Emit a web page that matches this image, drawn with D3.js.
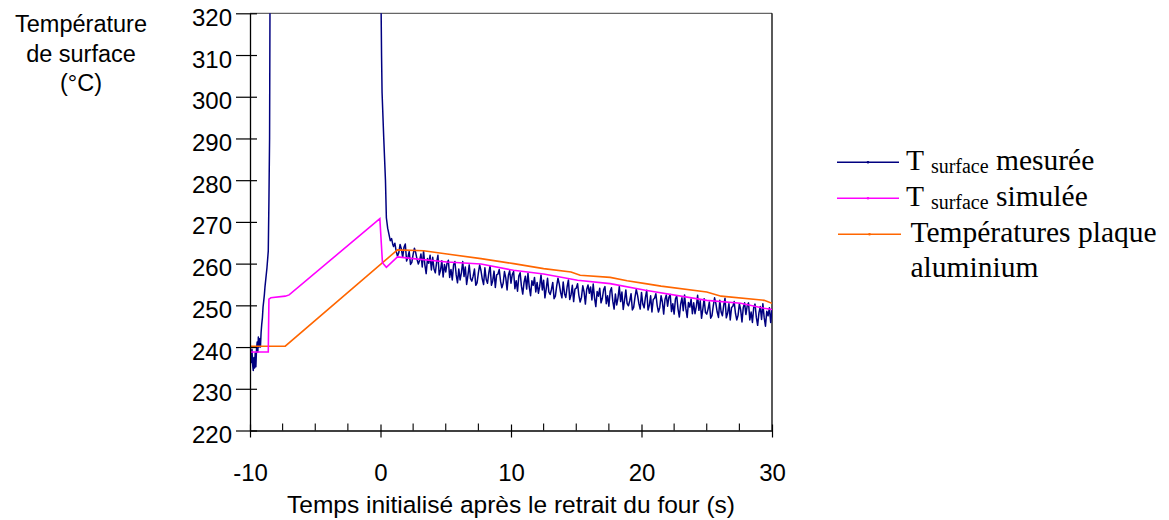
<!DOCTYPE html>
<html><head><meta charset="utf-8">
<script src="https://cdn.jsdelivr.net/npm/d3@7"></script>
<style>body{margin:0;background:#fff}</style>
</head><body>
<svg id="c" width="1169" height="520"></svg>
<script>
// ---------- data ----------
const xTicks = [-10, 0, 10, 20, 30];
const xMinorTicks = [-7.5, -5, -2.5, 2.5, 5, 7.5, 12.5, 15, 17.5, 22.5, 25, 27.5];
const yTicks = [220, 230, 240, 250, 260, 270, 280, 290, 300, 310, 320];

// T surface simulée
const simTime = [-10, -8.6, -8.55, -8.4, -7.3, -7.0, -0.05, 0.15, 0.45, 1.3, 2.5, 5.1, 7.7, 10.2, 12.5, 15.1, 17.6, 20.3, 25, 27.6, 29.4, 30];
const simTemp = [238.8, 238.8, 251.5, 251.8, 252.2, 252.5, 270.8, 260.2, 259.1, 261.6, 261.2, 260.4, 259.9, 258.4, 257.5, 256.0, 255.2, 253.6, 251.2, 250.5, 249.3, 249.0];

// Températures plaque aluminium
const plateTime = [-10, -7.3, 1.3, 3.3, 5.1, 7.7, 10.2, 12.5, 14.6, 15.3, 17.6, 18.9, 20.3, 21.5, 25, 26.1, 29.4, 30];
const plateTemp = [240.2, 240.2, 263.3, 263.1, 262.3, 261.2, 260.0, 258.8, 258.0, 257.2, 256.7, 255.9, 255.2, 254.6, 253.2, 252.2, 251.2, 250.5];

// T surface mesurée : start of record (values above 320 leave the frame)
const measHeadTime = [-10, -9.95, -9.9, -9.85, -9.8, -9.75, -9.7, -9.65, -9.6, -9.55, -9.5, -9.45, -9.4, -9.36, -9.3, -9.25, -9.2, -9.15, -9.1, -9.05, -9.0, -8.95, -8.9, -8.85, -8.8, -8.7, -8.6, -8.55, -8.5, -8.47, -8.45, 0.0, 0.05, 0.08, 0.12, 0.25, 0.38, 0.45, 0.55, 0.65, 0.75, 0.85, 0.95];
const measHeadTemp = [238.5, 237.0, 236.3, 239.5, 235.8, 234.4, 237.5, 235.0, 238.6, 235.3, 239.5, 241.2, 238.8, 242.4, 240.0, 242.0, 240.0, 243.5, 245.5, 247.0, 249.6, 251.0, 252.5, 254.5, 256.0, 259.0, 263.0, 275.0, 290.0, 320.0, 340.0, 340.0, 320.0, 310.0, 301.0, 290.0, 280.0, 271.0, 268.5, 267.0, 265.5, 266.0, 264.5];
// T surface mesurée : sampled every 0.1 s from t = 1.0 s
const measTailStart = 1.0, measTailStep = 0.1;
const measTailTemp = [
264.1, 264.9, 263.0, 261.8, 262.6, 264.6, 263.5, 261.5, 263.9, 264.7,
260.6, 261.5, 262.9, 259.8, 260.3, 262.2, 263.7, 262.6, 261.0, 259.9,
260.8, 262.3, 259.2, 263.0, 259.7, 257.6, 261.2, 260.1, 262.0, 258.5,
261.5, 258.7, 257.8, 260.3, 262.0, 257.3, 258.4, 260.7, 256.8, 259.8,
258.0, 260.1, 260.8, 256.7, 258.6, 256.1, 259.7, 260.5, 257.3, 255.4,
258.7, 256.1, 257.8, 260.5, 256.9, 259.2, 255.0, 257.2, 259.7, 256.4,
255.8, 257.0, 258.7, 254.8, 255.4, 257.8, 259.7, 258.3, 256.3, 255.0,
259.0, 256.2, 255.3, 257.8, 259.5, 254.8, 255.9, 258.2, 254.3, 257.3,
257.5, 258.6, 255.8, 254.2, 255.3, 258.1, 256.6, 253.7, 257.2, 258.3,
255.3, 257.4, 258.1, 254.0, 255.9, 253.4, 257.0, 257.8, 254.6, 252.7,
255.5, 257.0, 253.9, 257.7, 254.4, 252.3, 255.9, 254.8, 256.7, 253.2,
255.5, 252.9, 254.6, 257.3, 253.7, 256.0, 251.8, 254.0, 256.5, 253.2,
252.6, 253.8, 255.5, 251.6, 252.2, 254.6, 256.5, 255.1, 253.1, 251.8,
255.6, 252.8, 251.9, 254.4, 256.1, 251.4, 252.5, 254.8, 250.9, 253.9,
254.1, 255.2, 252.4, 250.8, 251.9, 254.7, 253.2, 250.3, 253.8, 254.9,
252.9, 254.4, 251.3, 255.1, 251.8, 249.7, 253.3, 252.2, 254.1, 250.6,
251.7, 253.8, 254.5, 250.4, 252.3, 249.8, 253.4, 254.2, 251.0, 249.1,
252.7, 250.1, 251.8, 254.5, 250.9, 253.2, 249.0, 251.2, 253.7, 250.4,
249.9, 251.1, 252.8, 248.9, 249.5, 251.9, 253.8, 252.4, 250.4, 249.1,
253.1, 250.3, 249.4, 251.9, 253.6, 248.9, 250.0, 252.3, 248.4, 251.4,
251.7, 252.8, 250.0, 248.4, 249.5, 252.3, 250.8, 247.9, 251.4, 252.5,
249.8, 251.9, 252.6, 248.5, 250.4, 247.9, 251.5, 252.3, 249.1, 247.2,
250.3, 251.8, 248.7, 252.5, 249.2, 247.1, 250.7, 249.6, 251.5, 248.0,
250.6, 248.0, 249.7, 252.4, 248.8, 251.1, 246.9, 249.1, 251.6, 248.3,
247.9, 249.1, 250.8, 246.9, 247.5, 249.9, 251.8, 250.4, 248.4, 247.1,
251.2, 248.4, 247.5, 250.0, 251.7, 247.0, 248.1, 250.4, 246.5, 249.5,
249.8, 250.9, 248.1, 246.5, 247.6, 250.4, 248.9, 246.0, 249.5, 250.6,
247.8, 249.9, 250.6, 246.5, 248.4, 245.9, 249.5, 250.3, 247.1, 245.2,
248.2, 249.7, 246.6, 250.4, 247.1, 245.0, 248.6, 247.5, 249.4, 245.9,
249.2
];

const seriesNames = ["mesurée", "simulée", "Températures plaque", "aluminium"];
const colors = {meas: "#000080", sim: "#ff00ff", plate: "#ff6600"};

// ---------- drawing ----------
const svg = d3.select("#c");
const L = 250, R = 772, T = 13.3, B = 430.5;
const x = d3.scaleLinear().domain([-10, 30]).range([L, R]);
const y = d3.scaleLinear().domain([220, 320]).range([B, T]);

svg.append("defs").append("clipPath").attr("id", "clip")
  .append("rect").attr("x", L).attr("y", T).attr("width", R - L).attr("height", B - T);

const sans = "'Liberation Sans', Arial, sans-serif";
const serif = "'Liberation Serif', 'Times New Roman', serif";

// frame top & right
svg.append("line").attr("x1", L).attr("x2", R).attr("y1", T).attr("y2", T)
  .attr("stroke", "#666").attr("stroke-width", 1.2);
svg.append("line").attr("x1", R).attr("x2", R).attr("y1", T).attr("y2", B)
  .attr("stroke", "#000").attr("stroke-width", 1.3);

// data lines
const line = d3.line().x(d => x(d[0])).y(d => y(d[1]));
const g = svg.append("g").attr("clip-path", "url(#clip)");

const plate = plateTime.map((t, i) => [t, plateTemp[i]]);
const sim = simTime.map((t, i) => [t, simTemp[i]]);
const meas = measHeadTime.map((t, i) => [t, measHeadTemp[i]])
  .concat(measTailTemp.map((v, i) => [measTailStart + i * measTailStep, v]));

g.append("path").datum(meas).attr("d", line).attr("fill", "none")
  .attr("stroke", colors.meas).attr("stroke-width", 1.5).attr("stroke-linejoin", "round");
g.append("path").datum(plate).attr("d", line).attr("fill", "none")
  .attr("stroke", colors.plate).attr("stroke-width", 1.6);
g.append("path").datum(sim).attr("d", line).attr("fill", "none")
  .attr("stroke", colors.sim).attr("stroke-width", 1.6);

// y axis
const ya = svg.append("g").attr("transform", `translate(${L},0)`)
  .call(d3.axisLeft(y).tickValues(yTicks).tickSizeInner(14).tickSizeOuter(0).tickPadding(4));
ya.select(".domain").attr("stroke", "#000").attr("stroke-width", 1.3);
ya.selectAll(".tick line").attr("x1", 7).attr("stroke", "#000").attr("stroke-width", 1.2);
ya.selectAll(".tick text").attr("font-family", sans).attr("font-size", 24).attr("dy", "0.5em").attr("fill", "#000");

// x axis
const xa = svg.append("g").attr("transform", `translate(0,${B})`)
  .call(d3.axisBottom(x).tickValues(xTicks).tickSizeInner(7).tickSizeOuter(0).tickFormat(d => String(d)));
xa.select(".domain").attr("stroke", "#000").attr("stroke-width", 1.3);
xa.selectAll(".tick line").attr("y1", -6).attr("stroke", "#000").attr("stroke-width", 1.2);
xa.selectAll(".tick text").attr("font-family", sans).attr("font-size", 24).attr("y", 50).attr("dy", 0).attr("fill", "#000");
xa.selectAll(".minor").data(xMinorTicks).enter().append("line").attr("class", "minor")
  .attr("x1", d => x(d)).attr("x2", d => x(d)).attr("y1", 0).attr("y2", -7)
  .attr("stroke", "#000").attr("stroke-width", 1.1);

// axis titles
svg.append("text").attr("x", 511).attr("y", 513).attr("text-anchor", "middle")
  .attr("font-family", sans).attr("font-size", 24.5).text("Temps initialisé après le retrait du four (s)");
const yl = svg.append("text").attr("text-anchor", "middle").attr("font-family", sans).attr("font-size", 23.5);
[["Température", 31.5], ["de surface", 62], ["(°C)", 91]].forEach(([s, yy]) =>
  yl.append("tspan").attr("x", 81).attr("y", yy).text(s));

// legend
const leg = svg.append("g");
const legRows = [
  {c: colors.meas, ly: 162.3, ty: 169.5, x1: 837, x2: 899},
  {c: colors.sim, ly: 198.3, ty: 206, x1: 837, x2: 899},
  {c: colors.plate, ly: 234.3, ty: 241.7, x1: 838, x2: 901}
];
legRows.forEach(r => {
  leg.append("line").attr("x1", r.x1).attr("x2", r.x2).attr("y1", r.ly).attr("y2", r.ly)
    .attr("stroke", r.c).attr("stroke-width", 1.6);
  leg.append("circle").attr("cx", (r.x1 + r.x2) / 2).attr("cy", r.ly).attr("r", 1.3).attr("fill", r.c);
});
const LF = 29.5;
function tsub(yy, word) {
  const t = leg.append("text").attr("x", 906).attr("y", yy).attr("font-family", serif).attr("font-size", LF);
  t.append("tspan").text("T ");
  t.append("tspan").attr("font-size", 20).attr("dy", 3).text("surface");
  t.append("tspan").attr("dy", -3).text(" " + word);
}
tsub(legRows[0].ty, seriesNames[0]);
tsub(legRows[1].ty, seriesNames[1]);
leg.append("text").attr("x", 910.5).attr("y", legRows[2].ty).attr("font-family", serif).attr("font-size", LF).text(seriesNames[2]);
leg.append("text").attr("x", 910.5).attr("y", 276.7).attr("font-family", serif).attr("font-size", LF).text(seriesNames[3]);
</script>
</body></html>
